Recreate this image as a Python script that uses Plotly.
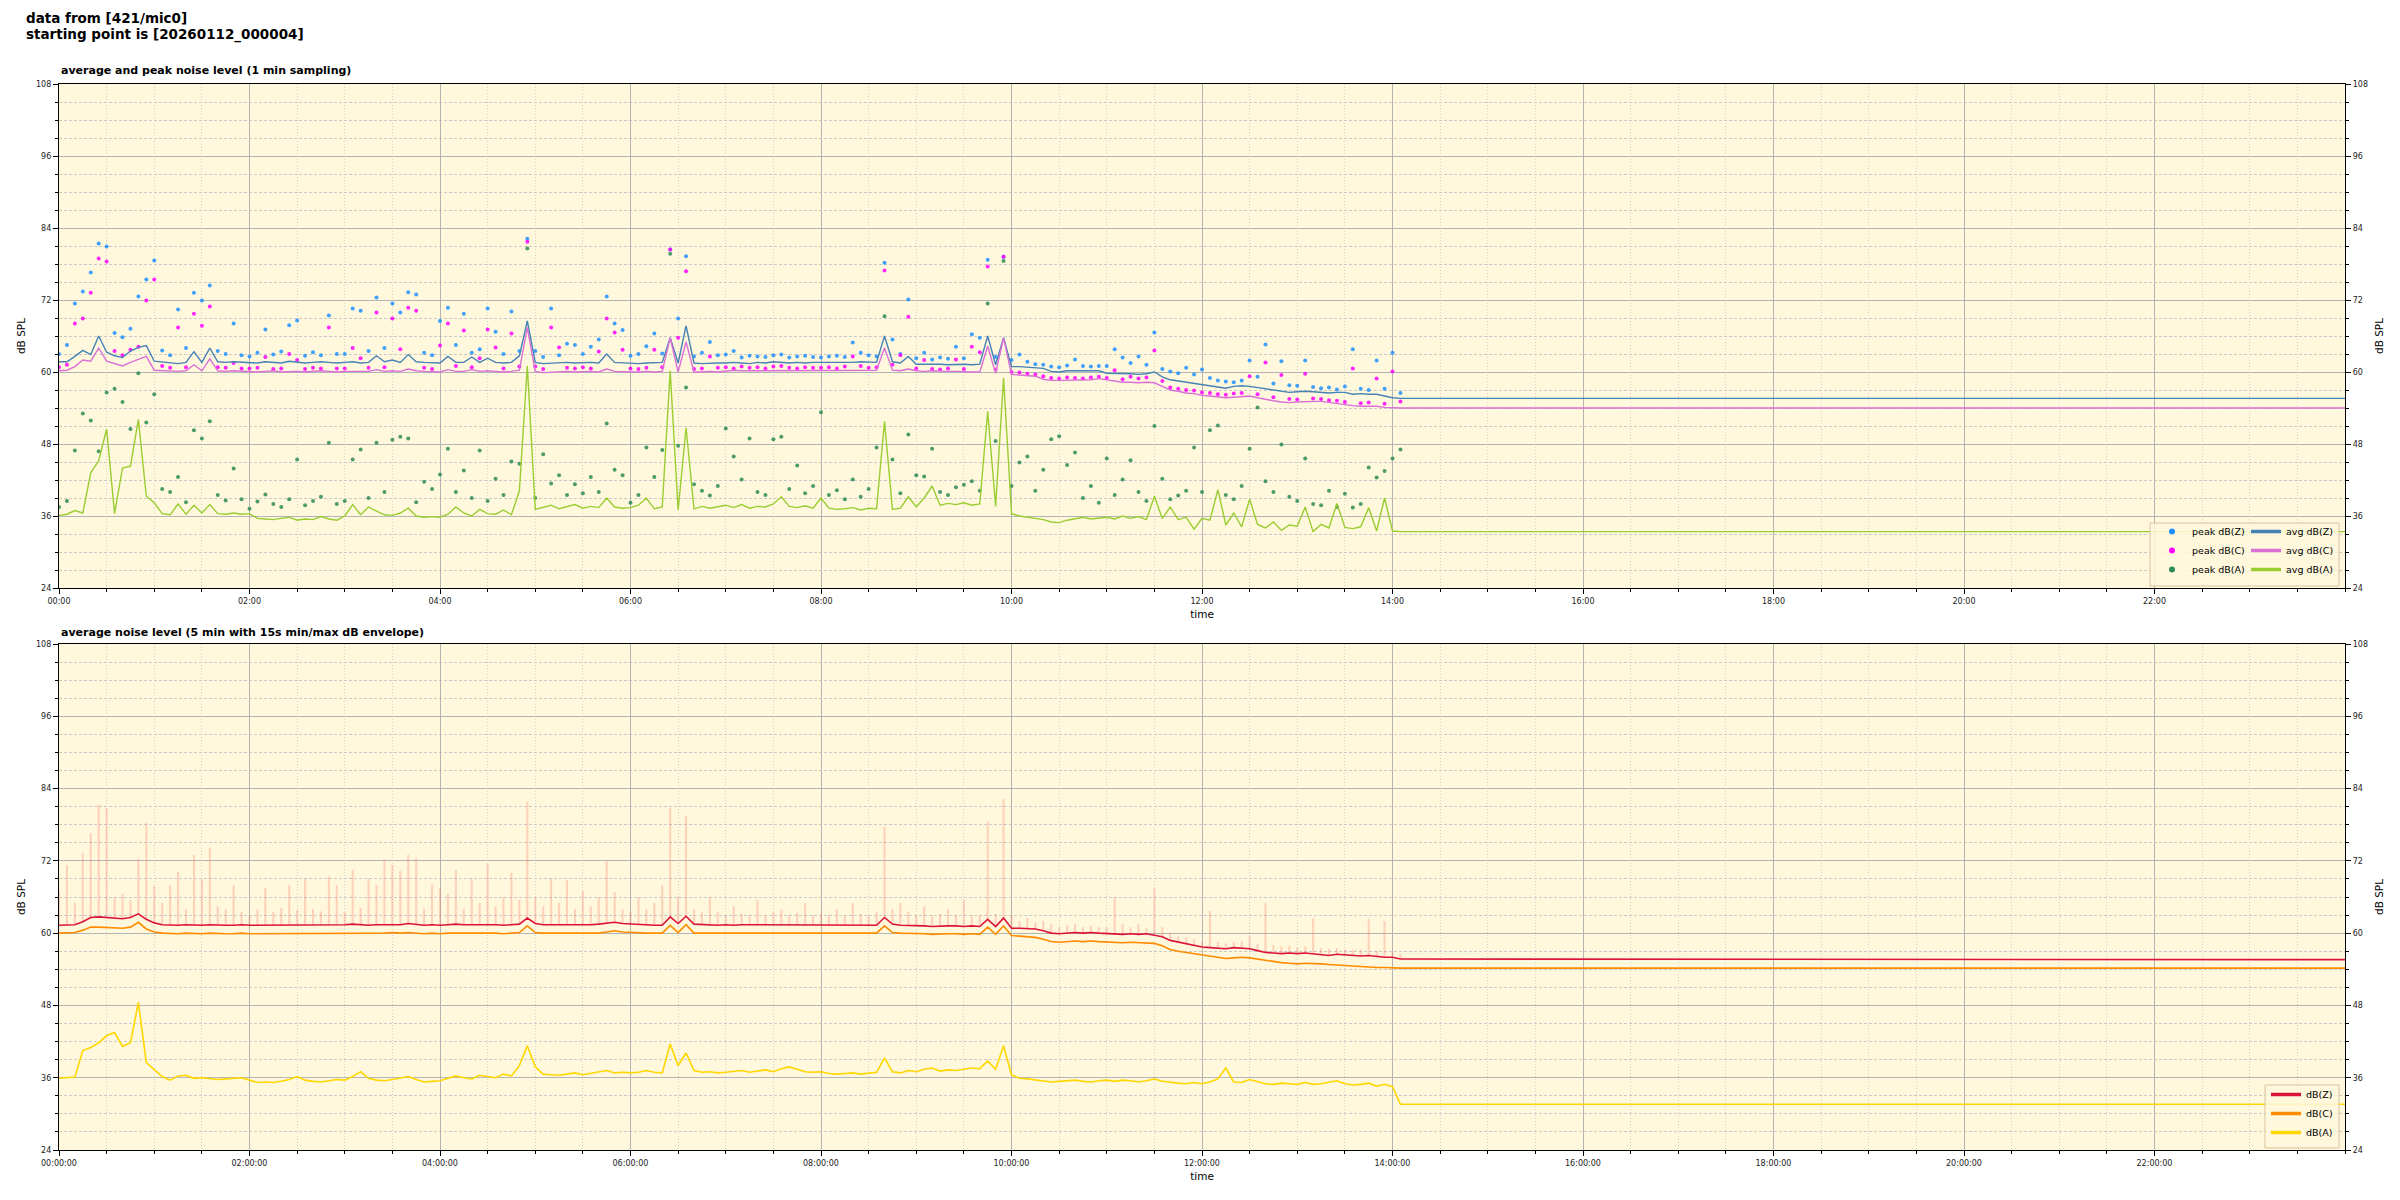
import plotly.graph_objects as go

# ---------------- data (5-minute samples from 00:00 to 14:05, values in dB SPL) ----------------
sample_step_min = 5
n_samples = 170
day_end_min = 1440

avg_z_top = [
    61.7, 61.7, 62.6, 63.6, 62.9, 66.0, 63.3, 62.7, 62.4, 63.5, 64.1, 64.4,
    61.8, 61.7, 61.5, 61.4, 61.6, 63.4, 61.6, 64.0, 61.7, 61.6, 61.7, 61.6,
    61.6, 61.5, 61.7, 61.6, 61.5, 61.8, 61.6, 61.5, 61.6, 61.7, 61.6, 61.5,
    61.6, 61.7, 61.5, 61.6, 62.7, 61.7, 62.0, 61.6, 62.9, 61.7, 61.6, 61.5,
    61.5, 62.6, 61.6, 61.6, 62.5, 61.6, 62.3, 61.6, 61.5, 61.6, 62.7, 68.5,
    61.6, 61.4, 61.5, 61.5, 61.6, 61.5, 61.6, 61.6, 61.5, 63.0, 61.6, 61.5,
    61.5, 61.4, 61.5, 61.5, 61.6, 65.7, 61.5, 67.7, 61.5, 61.4, 61.5, 61.5,
    61.5, 61.6, 61.5, 61.4, 61.6, 61.5, 61.7, 61.6, 61.5, 61.6, 61.5, 61.6,
    61.6, 61.5, 61.6, 61.5, 61.6, 61.7, 61.6, 61.6, 66.0, 61.7, 61.5, 62.6,
    61.3, 61.3, 61.4, 61.3, 61.2, 61.3, 61.3, 61.2, 61.3, 66.0, 61.2, 65.7,
    60.9, 60.9, 60.8, 60.7, 60.6, 60.1, 60.0, 60.2, 60.2, 60.1, 60.2, 60.2,
    59.8, 59.8, 59.7, 59.7, 59.6, 59.7, 60.0, 59.2, 58.7, 58.5, 58.3, 58.0,
    57.8, 57.6, 57.4, 57.3, 57.6, 57.7, 57.6, 57.4, 57.1, 56.9, 56.7, 56.6,
    56.7, 56.8, 56.7, 56.6, 56.5, 56.6, 56.6, 56.3, 56.4, 56.3, 56.3, 56.0,
    55.7, 55.6,
]
avg_c_top = [
    60.2, 60.3, 60.9, 62.0, 61.8, 64.0, 61.8, 61.4, 61.0, 61.6, 62.1, 62.6,
    60.3, 60.2, 60.2, 60.1, 60.2, 61.2, 60.2, 62.2, 60.2, 60.1, 60.2, 60.1,
    60.1, 60.0, 60.1, 60.2, 60.0, 60.1, 60.1, 60.0, 60.1, 60.2, 60.1, 60.0,
    60.1, 60.1, 60.0, 60.1, 60.4, 60.1, 60.2, 60.1, 60.5, 60.2, 60.1, 60.0,
    60.0, 60.4, 60.1, 60.1, 60.4, 60.1, 60.2, 60.1, 60.0, 60.1, 60.3, 67.4,
    60.1, 59.9, 60.0, 60.0, 60.1, 60.0, 60.1, 60.1, 60.0, 60.5, 60.1, 60.0,
    60.0, 60.0, 60.1, 60.0, 60.1, 65.7, 60.0, 65.0, 60.0, 60.0, 60.1, 60.0,
    60.2, 60.3, 60.2, 60.2, 60.3, 60.2, 60.3, 60.3, 60.2, 60.3, 60.2, 60.3,
    60.3, 60.2, 60.3, 60.2, 60.3, 60.3, 60.2, 60.3, 64.0, 60.3, 60.2, 60.5,
    60.2, 60.1, 60.2, 60.1, 60.1, 60.1, 60.0, 60.0, 60.0, 64.3, 59.8, 65.7,
    59.6, 59.5, 59.4, 59.3, 58.8, 58.6, 58.6, 58.6, 58.7, 58.6, 58.7, 58.9,
    58.7, 58.6, 58.3, 58.3, 58.2, 58.3, 58.2, 57.6, 57.0, 56.8, 56.5, 56.4,
    56.1, 56.0, 55.8, 55.7, 55.8, 55.9, 56.0, 55.7, 55.4, 55.2, 55.0, 54.9,
    55.0, 55.1, 55.1, 55.1, 54.9, 54.7, 54.6, 54.4, 54.3, 54.3, 54.3, 54.1,
    54.0, 54.0,
]
avg_a_top = [
    36.1, 36.3, 36.9, 36.5, 43.2, 45.2, 50.5, 36.4, 44.0, 44.3, 52.1, 39.3,
    38.2, 36.4, 36.2, 38.0, 36.3, 37.8, 36.5, 37.9, 36.4, 36.3, 36.5, 36.3,
    36.4, 35.6, 35.5, 35.4, 35.6, 35.8, 35.3, 35.5, 35.4, 35.9, 35.5, 35.3,
    36.0, 37.9, 36.2, 37.5, 36.8, 36.2, 36.1, 36.5, 37.3, 36.0, 35.8, 35.9,
    35.8, 36.3, 37.5, 36.5, 36.0, 37.1, 36.4, 36.3, 37.0, 36.2, 40.2, 61.0,
    37.1, 37.5, 37.8, 37.2, 37.6, 37.9, 37.3, 37.6, 37.4, 39.0, 37.5, 37.3,
    37.4, 37.8, 39.0, 37.2, 37.5, 60.2, 37.0, 50.7, 37.2, 37.6, 37.3, 37.5,
    37.8, 37.4, 37.9, 37.3, 37.6, 37.5, 38.0, 39.2, 37.6, 37.4, 37.7, 37.3,
    39.0, 37.3, 37.1, 37.2, 37.4, 37.0, 37.3, 37.2, 51.8, 37.1, 37.3, 39.2,
    37.5, 39.0, 41.0, 37.8, 38.1, 37.9, 38.2, 37.8, 38.0, 53.4, 37.6, 59.0,
    36.4, 36.0, 35.8, 35.6, 35.4, 35.0, 34.9, 35.3, 35.6, 35.8, 35.5, 35.7,
    35.8, 35.5, 36.0, 35.6, 35.9, 35.4, 39.3, 35.6, 37.5, 35.4, 35.8, 33.8,
    35.6, 35.3, 40.4, 34.5, 36.5, 34.2, 38.8, 34.6, 34.0, 35.0, 33.6, 34.5,
    34.3, 37.5, 33.4, 34.6, 34.0, 38.1, 34.1, 33.9, 34.2, 37.4, 33.5, 39.0,
    33.5, 33.4,
]
flat_z_top, flat_c_top, flat_a_top = 55.6, 54.0, 33.4

peak_z_top = [
    63.0, 64.5, 71.4, 73.4, 76.6, 81.4, 80.9, 66.5, 65.8, 67.2, 72.6, 75.4,
    78.6, 63.6, 62.8, 70.4, 64.0, 73.2, 71.9, 74.4, 63.5, 63.0, 68.1, 62.8,
    62.6, 63.2, 67.1, 62.9, 63.4, 67.8, 68.6, 62.7, 63.3, 62.8, 69.4, 63.0,
    63.0, 70.6, 70.2, 63.5, 72.4, 64.0, 71.4, 69.9, 73.3, 72.9, 63.2, 62.8,
    68.5, 70.7, 64.5, 69.7, 63.2, 63.8, 70.6, 66.7, 63.0, 70.1, 63.5, 82.2,
    63.5, 62.5, 70.6, 62.8, 64.7, 64.5, 63.0, 64.2, 65.4, 72.6, 68.1, 67.0,
    62.7, 63.0, 64.3, 66.4, 63.1, 80.4, 68.9, 79.3, 62.6, 63.2, 65.0, 62.8,
    62.9, 63.5, 62.4, 62.7, 62.6, 62.5, 62.8, 62.9, 62.4, 62.6, 62.7, 62.5,
    62.4, 62.6, 62.7, 62.5, 64.9, 63.2, 62.8, 62.6, 78.2, 65.4, 63.0, 72.1,
    62.3, 63.2, 62.1, 62.4, 62.2, 64.2, 62.3, 66.3, 65.7, 78.7, 62.5, 79.2,
    62.0, 62.9, 61.7, 61.3, 61.2, 60.9, 60.8, 61.1, 62.1, 61.0, 60.9, 61.0,
    61.0, 63.8, 62.4, 61.5, 62.6, 61.2, 66.6, 60.5, 60.1, 59.8, 60.7, 59.6,
    60.4, 59.0, 58.6, 58.4, 58.3, 58.6, 61.9, 59.2, 64.6, 58.1, 61.8, 57.8,
    57.7, 61.9, 57.5, 57.3, 57.4, 57.1, 57.6, 63.8, 57.2, 57.0, 61.9, 57.2,
    63.2, 56.5,
]
peak_c_top = [
    60.8, 61.2, 68.1, 68.9, 73.2, 78.9, 78.4, 63.5, 62.8, 63.7, 64.2, 71.9,
    75.4, 61.0, 60.7, 67.4, 60.8, 69.7, 67.7, 70.9, 60.8, 60.7, 61.5, 60.6,
    60.6, 60.7, 62.5, 60.5, 60.6, 63.0, 62.0, 60.5, 60.7, 60.6, 67.4, 60.6,
    60.6, 64.0, 62.3, 60.7, 69.9, 60.8, 68.9, 63.8, 70.7, 70.2, 60.7, 60.5,
    64.4, 68.1, 61.0, 66.9, 60.8, 62.3, 67.1, 64.1, 60.6, 66.4, 60.9, 81.7,
    60.9, 60.5, 67.4, 64.1, 60.7, 60.6, 60.8, 60.6, 63.4, 68.9, 66.6, 63.7,
    60.6, 60.5, 60.7, 63.7, 60.8, 80.4, 65.7, 76.8, 60.5, 60.6, 62.6, 60.7,
    60.8, 60.6, 60.9, 60.7, 60.8, 60.6, 60.9, 61.0, 60.7, 60.6, 60.8, 60.7,
    60.7, 60.8, 60.6, 60.9, 62.6, 61.0, 60.7, 60.8, 76.9, 61.2, 62.8, 69.2,
    60.6, 62.0, 60.5, 60.4, 60.6, 62.1, 60.5, 64.2, 63.3, 77.6, 60.4, 79.2,
    60.0, 59.9, 59.7, 59.6, 59.3, 59.0, 58.9, 59.1, 59.0, 58.9, 59.1, 59.2,
    59.0, 60.3, 58.8, 59.2, 58.9, 59.1, 63.6, 58.5, 57.4, 57.2, 57.0, 56.9,
    56.6, 56.5, 56.3, 56.2, 56.4, 56.5, 59.3, 56.3, 61.6, 55.8, 59.5, 55.5,
    55.4, 59.7, 55.6, 55.5, 55.3, 55.2, 55.0, 60.6, 54.8, 54.9, 58.9, 54.7,
    60.1, 55.1,
]
peak_a_top = [
    37.5, 38.5, 46.9, 53.1, 51.9, 46.8, 56.6, 57.2, 55.0, 50.5, 59.8, 51.6,
    56.3, 40.5, 40.0, 42.5, 38.3, 50.3, 48.9, 51.8, 39.5, 38.6, 43.9, 38.8,
    37.2, 38.4, 39.6, 38.0, 37.5, 38.8, 45.4, 37.8, 38.5, 39.2, 48.2, 38.0,
    38.5, 45.4, 47.1, 39.0, 48.2, 40.0, 48.7, 49.2, 48.9, 38.3, 41.7, 40.5,
    42.9, 47.2, 40.0, 43.6, 39.0, 46.9, 38.5, 42.2, 39.5, 45.1, 44.7, 80.6,
    39.0, 46.3, 41.4, 42.8, 39.5, 41.3, 39.8, 42.5, 40.0, 51.4, 43.7, 42.8,
    38.2, 39.5, 47.4, 42.5, 47.0, 79.7, 47.7, 57.4, 41.3, 40.2, 39.4, 41.0,
    50.6, 45.9, 42.1, 48.9, 40.0, 39.5, 48.8, 49.2, 40.5, 44.4, 39.8, 41.0,
    53.3, 39.5, 40.3, 38.8, 42.1, 39.2, 40.5, 47.4, 69.3, 45.4, 39.8, 49.6,
    42.8, 42.6, 47.2, 40.0, 39.5, 40.8, 41.2, 41.8, 40.2, 71.4, 48.5, 78.5,
    41.0, 44.9, 45.9, 40.2, 43.7, 48.8, 49.3, 44.5, 46.6, 39.0, 41.0, 38.2,
    45.6, 39.5, 42.1, 45.3, 40.0, 38.5, 51.0, 42.2, 38.8, 39.4, 40.2, 47.4,
    40.0, 50.3, 51.1, 39.5, 38.8, 41.0, 47.2, 54.1, 41.8, 40.0, 47.9, 39.2,
    38.5, 45.6, 38.0, 37.8, 40.2, 37.5, 39.7, 37.4, 38.0, 44.1, 42.4, 43.5,
    45.6, 47.1,
]

z_bottom = [
    61.3, 61.3, 61.4, 61.9, 62.6, 62.7, 62.6, 62.4, 62.4, 62.6, 63.2, 62.3,
    61.7, 61.4, 61.3, 61.3, 61.4, 61.3, 61.3, 61.4, 61.3, 61.3, 61.3, 61.4,
    61.3, 61.3, 61.4, 61.3, 61.3, 61.4, 61.4, 61.3, 61.3, 61.4, 61.3, 61.4,
    61.4, 61.5, 61.4, 61.3, 61.4, 61.4, 61.5, 61.4, 61.6, 61.4, 61.3, 61.4,
    61.3, 61.4, 61.5, 61.4, 61.4, 61.5, 61.4, 61.4, 61.3, 61.4, 61.5, 62.5,
    61.6, 61.4, 61.4, 61.4, 61.3, 61.4, 61.4, 61.4, 61.5, 61.6, 61.8, 61.6,
    61.5, 61.4, 61.4, 61.3, 61.3, 62.7, 61.6, 62.8, 61.5, 61.4, 61.4, 61.3,
    61.4, 61.3, 61.4, 61.4, 61.3, 61.4, 61.4, 61.4, 61.3, 61.4, 61.3, 61.4,
    61.3, 61.3, 61.4, 61.3, 61.4, 61.3, 61.3, 61.3, 62.6, 61.5, 61.3, 61.3,
    61.2, 61.2, 61.1, 61.2, 61.2, 61.2, 61.1, 61.2, 61.1, 62.3, 61.1, 62.5,
    60.8, 60.8, 60.8, 60.7, 60.4, 60.0, 59.9, 60.0, 60.1, 60.0, 60.1, 60.0,
    59.9, 59.9, 59.8, 59.9, 59.8, 59.9, 59.7, 59.4, 58.8, 58.5, 58.3, 57.9,
    57.7, 57.6, 57.5, 57.4, 57.6, 57.5, 57.4, 57.1, 56.8, 56.7, 56.6, 56.7,
    56.6, 56.7, 56.6, 56.4, 56.3, 56.5, 56.4, 56.3, 56.2, 56.3, 56.1, 56.0,
    56.0, 55.7,
]
c_bottom = [
    60.0, 60.0, 60.1, 60.5, 61.0, 61.0, 60.9, 60.8, 60.8, 61.0, 61.8, 60.7,
    60.2, 60.0, 59.9, 59.9, 60.0, 59.9, 59.9, 60.0, 59.9, 59.9, 59.9, 60.0,
    59.9, 59.9, 60.0, 59.9, 59.9, 60.0, 59.9, 59.9, 60.0, 59.9, 59.9, 60.0,
    60.0, 60.0, 60.0, 59.9, 60.0, 60.0, 60.1, 60.0, 60.1, 60.0, 59.9, 60.0,
    59.9, 60.0, 60.0, 60.0, 60.0, 60.1, 60.0, 60.0, 59.9, 60.0, 60.1, 61.2,
    60.1, 60.0, 60.0, 60.0, 59.9, 60.0, 60.0, 60.0, 60.0, 60.2, 60.4, 60.2,
    60.1, 60.0, 60.0, 60.0, 60.0, 61.3, 60.1, 61.4, 60.0, 60.0, 60.0, 59.9,
    60.0, 59.9, 60.0, 60.0, 59.9, 60.0, 60.0, 60.0, 59.9, 60.0, 59.9, 60.0,
    60.0, 59.9, 60.0, 60.0, 60.0, 59.9, 60.0, 60.0, 61.2, 60.1, 60.0, 60.0,
    59.9, 59.9, 59.8, 59.9, 59.9, 59.9, 59.8, 59.9, 59.8, 61.0, 59.8, 61.2,
    59.6, 59.5, 59.4, 59.3, 59.0, 58.6, 58.5, 58.6, 58.7, 58.6, 58.7, 58.6,
    58.5, 58.5, 58.4, 58.5, 58.4, 58.4, 58.3, 57.9, 57.3, 57.0, 56.8, 56.5,
    56.3, 56.1, 55.9, 55.8, 55.9, 56.0, 55.9, 55.7, 55.4, 55.2, 55.1, 55.0,
    54.9, 55.0, 55.0, 54.9, 54.8, 54.7, 54.6, 54.5, 54.4, 54.4, 54.3, 54.3,
    54.2, 54.2,
]
a_bottom = [
    35.9, 36.0, 36.1, 40.5, 41.0, 41.8, 43.0, 43.5, 41.2, 41.8, 48.5, 38.5,
    37.3, 36.2, 35.6, 36.3, 36.4, 35.9, 36.0, 35.8, 35.7, 35.8, 35.9, 36.0,
    35.6, 35.2, 35.3, 35.2, 35.4, 35.7, 36.2, 35.6, 35.4, 35.3, 35.5, 35.7,
    35.6, 36.2, 37.0, 35.9, 35.6, 35.5, 35.7, 35.9, 36.2, 35.7, 35.3, 35.4,
    35.5, 35.9, 36.3, 36.0, 35.8, 36.4, 36.2, 36.0, 36.6, 36.3, 38.0, 41.3,
    37.8, 36.6, 36.5, 36.4, 36.6, 36.8, 36.5, 36.7, 37.0, 37.2, 36.8, 36.9,
    36.8, 36.9, 37.2, 36.9, 36.8, 41.6, 38.0, 40.1, 37.2, 36.9, 37.0, 36.8,
    36.9, 37.0, 37.2, 36.9, 37.1, 37.3, 37.0, 37.5, 37.8, 37.4, 37.0, 36.9,
    37.0, 36.7, 36.6, 36.7, 36.8, 36.6, 36.7, 36.9, 39.3, 37.0, 36.8, 37.2,
    37.0, 37.4, 37.6, 37.1, 37.3, 37.2, 37.4, 37.6, 37.5, 38.8, 37.4, 41.3,
    36.5, 35.9, 35.8, 35.6, 35.5, 35.3, 35.4, 35.5, 35.6, 35.4, 35.3, 35.5,
    35.6, 35.4, 35.6, 35.5, 35.3, 35.5, 35.8, 35.4, 35.2, 35.1, 35.0, 35.2,
    35.0, 35.3, 35.8, 37.6, 35.3, 35.2, 35.7, 35.4, 35.0, 34.9, 35.1, 35.0,
    34.9, 35.2, 34.9, 35.0, 35.3, 35.5, 35.0, 34.8, 34.9, 35.1, 34.6, 34.9,
    34.5, 31.6,
]
flat_z_bottom, flat_c_bottom, flat_a_bottom = 55.6, 54.2, 31.6

z_envelope_max = [
    67.0, 71.3, 65.0, 73.3, 76.6, 81.3, 80.8, 66.0, 66.5, 65.5, 72.4, 78.3,
    67.8, 65.0, 68.0, 70.2, 64.0, 73.0, 69.0, 74.2, 64.5, 64.0, 68.0, 63.5,
    63.0, 64.0, 67.5, 63.5, 64.2, 68.0, 63.8, 69.0, 64.0, 63.6, 69.4, 68.0,
    63.5, 70.5, 64.2, 69.0, 68.0, 72.2, 71.3, 70.3, 73.0, 72.5, 64.0, 68.0,
    67.5, 66.5, 70.5, 64.0, 69.0, 65.0, 71.5, 64.5, 66.0, 70.0, 65.5, 81.8,
    66.0, 64.5, 69.0, 65.0, 68.8, 64.0, 67.0, 64.5, 66.0, 72.0, 66.8, 64.0,
    63.5, 66.0, 64.0, 65.0, 68.0, 80.8, 66.0, 79.5, 64.0, 63.5, 66.0, 63.5,
    63.0, 64.5, 63.2, 63.0, 65.5, 63.0, 63.5, 64.0, 63.0, 63.4, 65.0, 63.0,
    63.2, 63.0, 64.0, 63.0, 65.0, 63.2, 63.0, 63.5, 77.7, 64.0, 65.0, 63.5,
    63.0, 64.5, 63.0, 63.2, 64.0, 63.0, 65.5, 63.0, 63.0, 78.5, 63.2, 82.3,
    63.0, 62.0, 62.5, 61.8, 62.0, 61.5, 61.0, 61.3, 61.5, 61.0, 61.2, 61.0,
    61.0, 66.0, 61.5, 61.0, 61.5, 60.8, 67.5, 61.0, 60.0, 59.5, 59.3, 59.0,
    58.6, 63.7, 58.5, 58.3, 58.5, 58.6, 59.5, 58.2, 65.0, 58.0, 57.8, 57.9,
    57.6, 57.8, 62.4, 57.5, 57.4, 57.5, 57.3, 57.2, 57.3, 62.4, 57.1, 62.0,
    56.8, 56.5,
]

# ---------------- axis ticks / labels ----------------
hour_tick_minutes = [0, 120, 240, 360, 480, 600, 720, 840, 960, 1080, 1200, 1320]
top_tick_text = ["00:00", "02:00", "04:00", "06:00", "08:00", "10:00",
                 "12:00", "14:00", "16:00", "18:00", "20:00", "22:00"]
bottom_tick_text = ["00:00:00", "02:00:00", "04:00:00", "06:00:00", "08:00:00", "10:00:00",
                    "12:00:00", "14:00:00", "16:00:00", "18:00:00", "20:00:00", "22:00:00"]
db_ticks = [24, 36, 48, 60, 72, 84, 96, 108]
db_range = [24, 108]

# ---------------- build ----------------
minutes = [i * sample_step_min for i in range(n_samples)]
line_x = minutes + [day_end_min]

FONT = "DejaVu Sans"
W, H = 2400, 1200
PL, PR, PT, PB = 59, 2345, 84, 1150   # plot-area pixel bounds


def px(x):
    return (x - PL) / (PR - PL)


def py(y):
    return (PB - y) / (PB - PT)


fig = go.Figure()

peak_specs = [
    ("peak dB(Z)", peak_z_top, "rgba(30,144,255,0.85)", "#1e90ff"),
    ("peak dB(C)", peak_c_top, "rgba(255,0,255,0.85)", "#ff00ff"),
    ("peak dB(A)", peak_a_top, "rgba(46,139,87,0.85)", "#2e8b57"),
]
for name, vals, col, _ in peak_specs:
    fig.add_trace(go.Scatter(x=minutes, y=vals, mode="markers", name=name,
                             marker=dict(symbol="circle", size=4, color=col, line=dict(width=0)),
                             showlegend=False, xaxis="x", yaxis="y"))

avg_specs = [
    ("avg dB(Z)", avg_z_top, flat_z_top, "#4682b4"),
    ("avg dB(C)", avg_c_top, flat_c_top, "#da70d6"),
    ("avg dB(A)", avg_a_top, flat_a_top, "#9acd32"),
]
for name, vals, flat, col in avg_specs:
    fig.add_trace(go.Scatter(x=line_x, y=vals + [flat], mode="lines", name=name,
                             line=dict(color=col, width=1.4), showlegend=False,
                             xaxis="x", yaxis="y"))

for name, _, _, col in peak_specs:
    fig.add_trace(go.Scatter(x=[None], y=[None], mode="markers", name=name,
                             marker=dict(symbol="circle", size=6, color=col),
                             legend="legend", xaxis="x", yaxis="y"))
for name, _, _, col in avg_specs:
    fig.add_trace(go.Scatter(x=[None], y=[None], mode="lines", name=name,
                             line=dict(color=col, width=3.5),
                             legend="legend2", xaxis="x", yaxis="y"))

fig.add_trace(go.Bar(x=minutes, y=[m - z for m, z in zip(z_envelope_max, z_bottom)], base=z_bottom,
                     width=1.3, marker=dict(color="rgba(250,128,114,0.32)", line=dict(width=0)),
                     showlegend=False, xaxis="x2", yaxis="y2", name="dB(Z) envelope"))

bottom_specs = [
    ("dB(Z)", z_bottom, flat_z_bottom, "#dc143c"),
    ("dB(C)", c_bottom, flat_c_bottom, "#ff8c00"),
    ("dB(A)", a_bottom, flat_a_bottom, "#ffd700"),
]
for name, vals, flat, col in bottom_specs:
    fig.add_trace(go.Scatter(x=line_x, y=vals + [flat], mode="lines", name=name,
                             line=dict(color=col, width=1.6), showlegend=False,
                             xaxis="x2", yaxis="y2"))
for name, _, _, col in bottom_specs:
    fig.add_trace(go.Scatter(x=[None], y=[None], mode="lines", name=name,
                             line=dict(color=col, width=3.5),
                             legend="legend3", xaxis="x2", yaxis="y2"))

fig.add_trace(go.Scatter(x=[], y=[], xaxis="x", yaxis="y3", showlegend=False, hoverinfo="skip"))
fig.add_trace(go.Scatter(x=[], y=[], xaxis="x2", yaxis="y4", showlegend=False, hoverinfo="skip"))

tickfont = dict(family=FONT, size=8, color="#222222")
titlefont = dict(family=FONT, size=10.5, color="#000000")
top_dom = [py(588), 1.0]
bot_dom = [0.0, py(644)]


def xaxis(ticktext, anchor):
    return dict(domain=[0, 1], anchor=anchor, range=[0, day_end_min], tickmode="array",
                tickvals=hour_tick_minutes, ticktext=ticktext, ticks="outside", ticklen=5,
                tickwidth=1, tickcolor="#000", tickfont=tickfont, showline=True, linecolor="#000",
                linewidth=1.3, mirror=True, showgrid=True, gridcolor="#b4b4b4", gridwidth=1.2,
                zeroline=False, fixedrange=True, automargin=False,
                minor=dict(tickmode="linear", tick0=0, dtick=30, ticks="outside", ticklen=3,
                           tickcolor="#000", showgrid=True, gridcolor="#d2d2d2", gridwidth=0.8,
                           griddash="1px,2px"),
                title=dict(text="time", font=titlefont, standoff=5))


def yaxis(domain, anchor, side="left", overlaying=None):
    d = dict(anchor=anchor, range=db_range, tickmode="array", tickvals=db_ticks,
             ticks="outside", ticklen=5, tickwidth=1, tickcolor="#000", tickfont=tickfont,
             showline=True, linecolor="#000", linewidth=1.3, zeroline=False, fixedrange=True,
             side=side, automargin=False,
             minor=dict(tickmode="linear", tick0=24, dtick=3, ticks="outside", ticklen=3,
                        tickcolor="#000",
                        showgrid=(overlaying is None), gridcolor="#c9c9c9", gridwidth=0.8,
                        griddash="3px,2px"),
             title=dict(text="dB SPL", font=titlefont, standoff=8))
    if overlaying is None:
        d.update(domain=domain, showgrid=True, gridcolor="#b4b4b4", gridwidth=1.2, mirror=True)
    else:
        d.update(overlaying=overlaying, showgrid=False)
    return d


legend_common = dict(bgcolor="rgba(0,0,0,0)", borderwidth=0, xanchor="left", yanchor="bottom",
                     font=dict(family=FONT, size=9.5, color="#000"), tracegroupgap=0)

fig.update_layout(
    width=W, height=H, margin=dict(l=PL, r=W - PR, t=PT, b=H - PB, autoexpand=False),
    paper_bgcolor="white", plot_bgcolor="#fff8dc",
    xaxis=xaxis(top_tick_text, "y"),
    xaxis2=xaxis(bottom_tick_text, "y2"),
    yaxis=yaxis(top_dom, "x"),
    yaxis2=yaxis(bot_dom, "x2"),
    yaxis3=yaxis(top_dom, "x", side="right", overlaying="y"),
    yaxis4=yaxis(bot_dom, "x2", side="right", overlaying="y2"),
    barmode="overlay",
    legend=dict(x=px(2152), y=py(584), **legend_common),
    legend2=dict(x=px(2246), y=py(584), **legend_common),
    legend3=dict(x=px(2266), y=py(1147), **legend_common),
    shapes=[
        dict(type="rect", xref="paper", yref="paper", x0=px(2150), x1=px(2339), y0=py(586),
             y1=py(523), fillcolor="rgba(255,248,220,0.85)", line=dict(color="#d8c29d", width=1),
             layer="above"),
        dict(type="rect", xref="paper", yref="paper", x0=px(2265), x1=px(2339), y0=py(1148),
             y1=py(1085), fillcolor="rgba(255,248,220,0.85)", line=dict(color="#d8c29d", width=1),
             layer="above"),
    ],
    annotations=[
        dict(text="<b>data from [421/mic0]</b>", x=px(24), y=py(18), xref="paper", yref="paper",
             xanchor="left", yanchor="middle", showarrow=False,
             font=dict(family=FONT, size=13.5, color="#000")),
        dict(text="<b>starting point is [20260112_000004]</b>", x=px(24), y=py(34), xref="paper",
             yref="paper", xanchor="left", yanchor="middle", showarrow=False,
             font=dict(family=FONT, size=13.5, color="#000")),
        dict(text="<b>average and peak noise level (1 min sampling)</b>", x=px(59), y=py(71),
             xref="paper", yref="paper", xanchor="left", yanchor="middle", showarrow=False,
             font=dict(family=FONT, size=11, color="#000")),
        dict(text="<b>average noise level (5 min with 15s min/max dB envelope)</b>", x=px(59),
             y=py(632), xref="paper", yref="paper", xanchor="left", yanchor="middle",
             showarrow=False, font=dict(family=FONT, size=11, color="#000")),
    ],
)

fig.write_html("out.html", config={"displayModeBar": False},
               post_script="document.body.style.margin='0px';")
